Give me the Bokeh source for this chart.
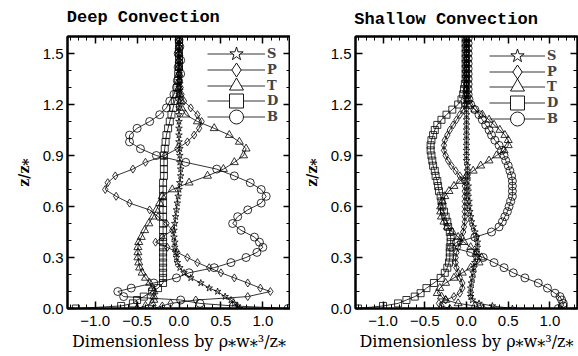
from bokeh.plotting import figure
from bokeh.layouts import row
from bokeh.models import (LinearAxis, SingleIntervalTicker, CustomJSTickFormatter,
                          Range1d, Legend, LegendItem)
from bokeh.embed import file_html
from bokeh.resources import INLINE

# ---------------- data: Deep Convection ----------------
L_Z = [0.0, 0.015, 0.03, 0.05, 0.07, 0.10, 0.12, 0.15, 0.18, 0.21, 0.24, 0.27,
       0.30, 0.33, 0.36, 0.39, 0.42, 0.46, 0.50, 0.54, 0.58, 0.62, 0.66, 0.70,
       0.74, 0.78, 0.82, 0.86, 0.90, 0.94, 0.98, 1.02, 1.06, 1.10, 1.14, 1.18,
       1.22, 1.26, 1.30, 1.34, 1.38, 1.42, 1.46, 1.50, 1.54, 1.58]
L_S = [0.72, 0.70, 0.66, 0.62, 0.55, 0.46, 0.36, 0.26, 0.14, 0.06, 0.01, -0.02,
       -0.03, -0.04, -0.05, -0.05, -0.06, -0.06, -0.05, -0.04, -0.03, -0.02, -0.01, 0.0,
       0.01, 0.02, 0.02, 0.01, 0.01, 0.01, 0.0, 0.0, 0.0, 0.0, 0.0, 0.0,
       0.0, 0.0, 0.0, 0.0, 0.0, 0.0, 0.0, 0.0, 0.0, 0.0]
L_P = [-0.30, -0.20, -0.10, 0.20, 0.82, 1.09, 0.97, 0.82, 0.66, 0.50, 0.36, 0.22,
       0.10, -0.02, -0.14, -0.28, -0.20, -0.08, -0.15, -0.25, -0.35, -0.59, -0.75, -0.88,
       -0.85, -0.76, -0.55, -0.40, -0.17, -0.02, 0.10, 0.18, 0.24, 0.27, 0.22, 0.14,
       0.06, 0.03, 0.02, 0.01, 0.0, 0.0, 0.0, 0.0, 0.0, 0.0]
L_T = [-0.50, -0.40, -0.32, -0.30, -0.30, -0.30, -0.32, -0.35, -0.40, -0.44, -0.47, -0.48,
       -0.49, -0.49, -0.49, -0.48, -0.45, -0.41, -0.36, -0.31, -0.27, -0.23, -0.20, -0.08,
       0.12, 0.34, 0.53, 0.66, 0.77, 0.80, 0.72, 0.60, 0.42, 0.22, 0.08, 0.03,
       0.02, 0.01, 0.0, 0.0, 0.0, 0.0, 0.0, 0.0, 0.0, 0.0]
L_D = [-1.23, -0.69, -0.55, -0.50, -0.42, -0.32, -0.25, -0.19, -0.19, -0.19, -0.19, -0.19,
       -0.19, -0.19, -0.19, -0.19, -0.19, -0.19, -0.19, -0.19, -0.19, -0.19, -0.19, -0.19,
       -0.19, -0.18, -0.18, -0.18, -0.18, -0.17, -0.16, -0.15, -0.13, -0.11, -0.09, -0.07,
       -0.05, -0.03, -0.02, -0.01, -0.01, 0.0, 0.0, 0.0, 0.0, 0.0]
L_B = [1.30, 0.65, 0.25, 0.02, -0.66, -0.73, -0.57, -0.30, -0.03, 0.12, 0.42, 0.62,
       0.80, 0.93, 1.00, 0.96, 0.90, 0.74, 0.64, 0.70, 0.82, 0.98, 1.04, 0.98,
       0.85, 0.66, 0.45, 0.08, -0.27, -0.46, -0.59, -0.59, -0.50, -0.35, -0.23, -0.15,
       -0.11, -0.06, -0.03, -0.02, 0.02, -0.01, 0.02, -0.01, 0.01, 0.0]

# ---------------- data: Shallow Convection ----------------
R_Z = [0.0, 0.015, 0.03, 0.05, 0.07, 0.09, 0.12, 0.15, 0.18, 0.21, 0.24, 0.27,
       0.30, 0.33, 0.36, 0.39, 0.42, 0.45, 0.48, 0.51, 0.54, 0.57, 0.60, 0.63,
       0.66, 0.69, 0.72, 0.75, 0.78, 0.81, 0.84, 0.87, 0.90, 0.93, 0.96, 0.99,
       1.02, 1.05, 1.08, 1.11, 1.14, 1.17, 1.20, 1.23, 1.26, 1.29, 1.32, 1.35,
       1.38, 1.41, 1.44, 1.47, 1.50, 1.53, 1.56, 1.59]
R_S = [0.55, 0.31, 0.15, 0.07, 0.05, 0.05, 0.05, 0.06, 0.07, 0.08, 0.09, 0.10,
       0.11, 0.12, 0.13, 0.13, 0.12, 0.10, 0.08, 0.06, 0.05, 0.04, 0.03, 0.03,
       0.02, 0.02, 0.02, 0.01, 0.01, 0.01, 0.01, 0.0, 0.0, 0.0, 0.0, 0.0,
       0.0, 0.0, 0.0, 0.0, 0.0, 0.0, 0.0, 0.0, 0.0, 0.0, 0.0, 0.0,
       0.0, 0.0, 0.0, 0.0, 0.0, 0.0, 0.0, 0.0]
R_P = [-0.20, -0.30, -0.33, -0.25, -0.15, -0.08, -0.05, -0.05, -0.08, -0.10, -0.12, -0.13,
       -0.13, -0.12, -0.10, -0.08, -0.06, -0.04, -0.03, -0.02, -0.02, -0.02, -0.02, -0.02,
       -0.02, -0.02, -0.02, -0.03, -0.08, -0.13, -0.18, -0.22, -0.25, -0.27, -0.27, -0.26,
       -0.23, -0.20, -0.16, -0.12, -0.08, -0.04, -0.02, -0.01, 0.0, 0.0, 0.0, 0.0,
       0.0, 0.0, 0.0, 0.0, 0.0, 0.0, 0.0, 0.0]
R_T = [0.20, 0.10, -0.10, -0.25, -0.30, -0.35, -0.32, -0.25, -0.15, -0.05, 0.05, 0.15,
       0.18, 0.12, 0.05, -0.03, -0.10, -0.17, -0.23, -0.27, -0.30, -0.31, -0.31, -0.29,
       -0.26, -0.21, -0.15, -0.08, 0.0, 0.08, 0.17, 0.27, 0.36, 0.45, 0.50, 0.50,
       0.46, 0.40, 0.33, 0.27, 0.19, 0.10, 0.04, 0.02, 0.01, 0.0, 0.0, 0.0,
       0.0, 0.0, 0.0, 0.0, 0.0, 0.0, 0.0, 0.0]
R_D = [-1.30, -1.00, -0.82, -0.72, -0.62, -0.55, -0.48, -0.39, -0.31, -0.26, -0.23, -0.21,
       -0.20, -0.20, -0.20, -0.19, -0.19, -0.20, -0.22, -0.23, -0.25, -0.27, -0.29, -0.30,
       -0.31, -0.33, -0.34, -0.35, -0.37, -0.38, -0.40, -0.41, -0.42, -0.43, -0.43, -0.42,
       -0.40, -0.38, -0.35, -0.30, -0.24, -0.17, -0.10, -0.06, -0.04, -0.03, -0.02, -0.01,
       -0.01, -0.01, -0.01, -0.01, -0.01, -0.01, -0.01, -0.01]
R_B = [1.10, 1.16, 1.16, 1.14, 1.12, 1.06, 0.97, 0.86, 0.70, 0.56, 0.45, 0.33,
       0.20, 0.05, -0.18, -0.12, 0.10, 0.30, 0.39, 0.43, 0.46, 0.49, 0.51, 0.53,
       0.55, 0.55, 0.55, 0.55, 0.54, 0.52, 0.50, 0.47, 0.45, 0.42, 0.39, 0.34,
       0.30, 0.27, 0.23, 0.19, 0.15, 0.10, 0.05, 0.03, 0.02, 0.02, 0.02, 0.02,
       0.02, 0.02, 0.02, 0.02, 0.02, 0.02, 0.02, 0.02]

LABELS = ["S", "P", "T", "D", "B"]
MARKERS = ["star", "diamond", "triangle", "square", "circle"]
SIZES = [7, 8, 8, 7, 8]

X_TICK_STEP = 0.5
Y_TICK_STEP = 0.3

SERIF = "DejaVu Serif"
NAN = float("nan")
NBSP = "\u00a0"


def make_panel(title, pad, zs, series, width, bl, br, bt, t_stand, leg_x, leg_rows, glyph_w):
    p = figure(width=width, height=356, output_backend="svg", toolbar_location=None,
               x_range=Range1d(-1.33, 1.33), y_range=Range1d(0, 1.6),
               min_border_left=bl, min_border_right=br, min_border_top=bt,
               min_border_bottom=48, x_axis_location=None, y_axis_location=None)
    p.background_fill_color = "white"
    p.border_fill_color = "white"
    p.outline_line_color = "black"
    p.outline_line_width = 2
    p.xgrid.visible = False
    p.ygrid.visible = False

    fmt = CustomJSTickFormatter(code="return tick.toFixed(1).replace('-', '\u2212');")
    blank = CustomJSTickFormatter(code="return '';")
    xt = SingleIntervalTicker(interval=X_TICK_STEP, num_minor_ticks=5)
    yt = SingleIntervalTicker(interval=Y_TICK_STEP, num_minor_ticks=3)

    def style(ax, show):
        ax.axis_line_width = 2
        ax.major_tick_in = 7
        ax.major_tick_out = 0
        ax.minor_tick_in = 4
        ax.minor_tick_out = 0
        ax.major_tick_line_width = 1.5
        ax.minor_tick_line_width = 1
        ax.major_label_text_font = "Liberation Sans"
        ax.major_label_text_font_size = "15px" if show else "1px"
        ax.major_label_text_color = "black"
        ax.major_label_standoff = 6 if show else 0

    bx = LinearAxis(ticker=xt, formatter=fmt,
                    axis_label="Dimensionless by \u03c1\u204ew\u204e\u00b3/z\u204e")
    style(bx, True)
    bx.major_label_standoff = 7
    bx.axis_label_standoff = 3
    bx.axis_label_text_font = SERIF
    bx.axis_label_text_font_size = "16px"
    bx.axis_label_text_font_style = "normal"
    bx.axis_label_text_color = "black"
    p.add_layout(bx, "below")

    ly = LinearAxis(ticker=yt, formatter=fmt, axis_label="z/z\u204e")
    style(ly, True)
    ly.major_label_standoff = 4
    ly.axis_label_standoff = 8
    ly.axis_label_text_font = SERIF
    ly.axis_label_text_font_size = "14px"
    ly.axis_label_text_font_style = "bold"
    ly.axis_label_text_color = "black"
    p.add_layout(ly, "left")

    # panel title carried by the top axis label (monospace, padded so it starts at the frame's left)
    tx = LinearAxis(ticker=xt, formatter=blank)
    style(tx, False)
    tx.axis_label = title + NBSP * pad
    tx.axis_label_align = "center"
    tx.axis_label_standoff = t_stand
    tx.axis_label_text_font = "Liberation Mono"
    tx.axis_label_text_font_size = "17px"
    tx.axis_label_text_font_style = "bold"
    tx.axis_label_text_color = "black"
    p.add_layout(tx, "above")
    ry = LinearAxis(ticker=yt, formatter=blank)
    style(ry, False)
    p.add_layout(ry, "right")

    for lab, mk, sz, xs, vy in zip(LABELS, MARKERS, SIZES, series, leg_rows):
        p.line(xs, zs, line_color="black", line_width=0.8)
        p.scatter(xs, zs, marker=mk, size=sz, line_color="black", line_width=0.8,
                  fill_alpha=0)
        # legend proxies (no visible data)
        lr = p.line([NAN], [NAN], line_color="black", line_width=0.8)
        sr = p.scatter([NAN], [NAN], marker=mk, size=14, line_color="black",
                       line_width=0.9, fill_color="white")
        leg = Legend(items=[LegendItem(label=lab, renderers=[lr, sr])],
                     location=(leg_x, vy), orientation="vertical",
                     glyph_width=glyph_w, glyph_height=35, spacing=0, padding=0,
                     margin=0, label_standoff=2, label_width=14, label_height=14,
                     label_text_font=SERIF, label_text_font_style="bold",
                     label_text_font_size="13px", background_fill_alpha=0,
                     border_line_alpha=0)
        p.add_layout(leg)
    return p


p1 = make_panel("Deep Convection", 7, L_Z, [L_S, L_P, L_T, L_D, L_B], 290, 67, 0, 36, 10,
                140, [237.5, 221.5, 205.5, 190.5, 174.5], 58)
p2 = make_panel("Shallow Convection", 4, R_Z, [R_S, R_P, R_T, R_D, R_B], 288, 65, 1, 33, 8,
                134, [235, 219.5, 204, 188.5, 172.5], 56)

layout = row(p1, p2)
open("out.html", "w").write(file_html(layout, INLINE))
